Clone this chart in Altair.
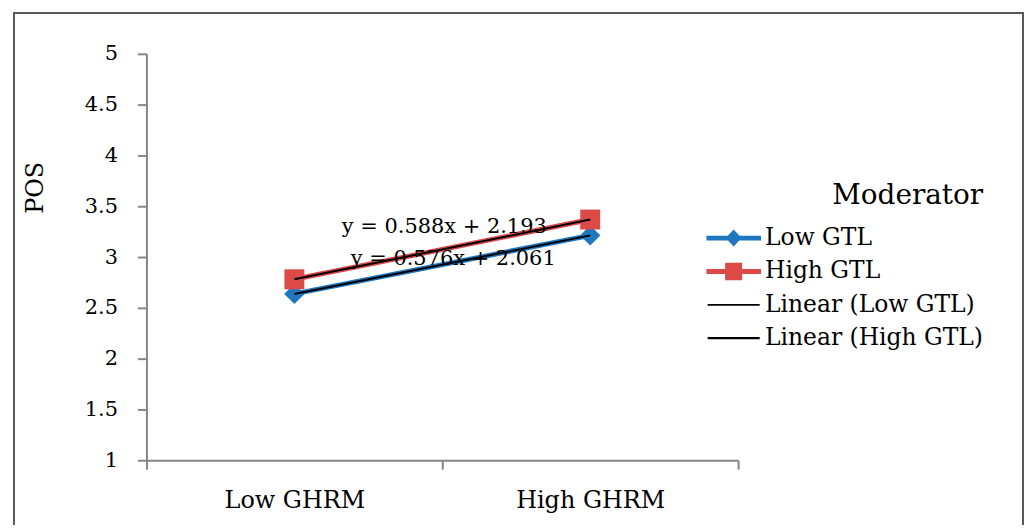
import altair as alt
import pandas as pd
import numpy as np

# ---------------- data ----------------
categories = ["Low GHRM", "High GHRM"]
series_names = ["Low GTL", "High GTL"]
low_gtl = [2.637, 3.213]
high_gtl = [2.781, 3.369]
trend_names = ["Linear (Low GTL)", "Linear (High GTL)"]
equations = ["y = 0.576x + 2.061", "y = 0.588x + 2.193"]
y_ticks = [1, 1.5, 2, 2.5, 3, 3.5, 4, 4.5, 5]
y_title = "POS"
legend_title = "Moderator"

# ---------------- styles ----------------
FONT = "DejaVu Serif"
BLUE = "#1F78BF"
RED = "#DC4A47"
AXIS_GRAY = "#868686"
series_colors = [BLUE, RED]
series_shapes = ["diamond", "square"]
series_sizes = [420, 400]

rows = []
for name, vals in zip(series_names, [low_gtl, high_gtl]):
    for i, (cat, v) in enumerate(zip(categories, vals)):
        rows.append({"series": name, "category": cat, "x": float(i + 1), "y": v})
df = pd.DataFrame(rows)

trend_rows = []
eq_rows = []
for name, tname, vals, eq in zip(series_names, trend_names, [low_gtl, high_gtl], equations):
    xs = np.arange(1, len(vals) + 1, dtype=float)
    slope, intercept = np.polyfit(xs, vals, 1)
    for xv in xs:
        trend_rows.append({"series": tname, "x": float(xv), "y": float(slope * xv + intercept)})
    xm = float(xs.mean())
    eq_rows.append({"series": tname, "x": xm, "y": float(slope * xm + intercept), "label": eq})
trend_df = pd.DataFrame(trend_rows)
eq_df = pd.DataFrame(eq_rows)

legend_names = series_names + trend_names
legend_df = pd.DataFrame({
    "series": legend_names,
    "x": [1.0] * len(legend_names),
    "y": [low_gtl[0], high_gtl[0], low_gtl[0], high_gtl[0]],
})

# ---------------- scales / axes ----------------
n = len(categories)
x_scale = alt.Scale(domain=[0.5, n + 0.5], nice=False, zero=False)
y_scale = alt.Scale(domain=[min(y_ticks), max(y_ticks)], nice=False, zero=False)

x_values = [0.5 + 0.5 * k for k in range(2 * n + 1)]
label_expr = ""
for i, c in enumerate(categories):
    label_expr += f"datum.value == {i + 1} ? '{c}' : "
label_expr += "''"
center_test = " || ".join(f"datum.value == {i + 1}" for i in range(n))

x_axis = alt.Axis(
    values=x_values, labelExpr=label_expr, title="",
    grid=False, domainColor=AXIS_GRAY, domainWidth=2,
    tickColor=AXIS_GRAY, tickWidth=2, tickSize=9,
    tickOpacity={"condition": {"test": center_test, "value": 0}, "value": 1},
    labelFontSize=24, labelColor="black", labelPadding=19, labelOverlap=False,
    labelFlush=False,
)
y_axis = alt.Axis(
    values=y_ticks, format="~g", title=y_title,
    grid=False, domainColor=AXIS_GRAY, domainWidth=2,
    tickColor=AXIS_GRAY, tickWidth=2, tickSize=9,
    labelFontSize=21, labelColor="black", labelPadding=20, labelOverlap=False,
    titleFontSize=24, titleFontWeight="normal", titleColor="black",
    titleX=-111, titleY=134, titleAngle=270, titleAlign="center", titleBaseline="middle",
)

X = alt.X("x:Q", scale=x_scale, axis=x_axis)
Y = alt.Y("y:Q", scale=y_scale, axis=y_axis)

color_scale = alt.Scale(domain=legend_names, range=series_colors + ["black", "black"])
shape_paths = [
    "M-1,-0.09L1,-0.09L1,0.09L-1,0.09Z M0,-0.31L0.29,0L0,0.31L-0.29,0Z",
    "M-1,-0.09L1,-0.09L1,0.09L-1,0.09Z M-0.31,-0.32L0.31,-0.32L0.31,0.32L-0.31,0.32Z",
    "M-0.95,-0.03L0.95,-0.03L0.95,0.03L-0.95,0.03Z",
    "M-0.95,-0.04L0.95,-0.04L0.95,0.04L-0.95,0.04Z",
]
shape_scale = alt.Scale(domain=legend_names, range=shape_paths)

legend = alt.Legend(
    title=legend_title, orient="none", legendX=562, legendY=129, padding=0,
    titleFontSize=28, titleFontWeight="normal", titleColor="black", titleAnchor="end",
    titlePadding=15, labelFontSize=23.5, labelColor="black", labelOffset=4, labelLimit=400,
    symbolSize=3025, symbolStrokeWidth=0, symbolOpacity=1, clipHeight=26, rowPadding=7.5,
)

# ---------------- layers ----------------
border = alt.Chart(alt.Data(values=[{"a": 1}])).mark_rect(
    fill="transparent", stroke="#595959", strokeWidth=2
).encode(x=alt.value(-133), x2=alt.value(880), y=alt.value(-41), y2=alt.value(490))

series_layers = []
for name, col, shp, sz in zip(series_names, series_colors, series_shapes, series_sizes):
    sub = alt.Chart(df).transform_filter(alt.datum.series == name)
    series_layers.append(sub.mark_line(strokeWidth=5, color=col).encode(x=X, y=Y))
    series_layers.append(
        sub.mark_point(shape=shp, filled=True, size=sz, opacity=1, color=col).encode(x=X, y=Y)
    )

trends = alt.Chart(trend_df).mark_line(color="black", strokeWidth=2).encode(
    x=X, y=Y, detail="series:N"
)

legend_layer = alt.Chart(legend_df).mark_point(filled=True, opacity=0).encode(
    x=X, y=Y,
    color=alt.Color("series:N", scale=color_scale, legend=legend),
    shape=alt.Shape("series:N", scale=shape_scale, legend=legend),
)

eq_low = alt.Chart(eq_df).transform_filter(alt.datum.series == trend_names[0]).mark_text(
    fontSize=21, color="black", baseline="alphabetic", align="center", dx=11, dy=0
).encode(x=X, y=Y, text="label:N")
eq_high = alt.Chart(eq_df).transform_filter(alt.datum.series == trend_names[1]).mark_text(
    fontSize=21, color="black", baseline="alphabetic", align="center", dx=2, dy=-16
).encode(x=X, y=Y, text="label:N")

chart = alt.layer(
    border, *series_layers, trends, legend_layer, eq_high, eq_low
).properties(
    width=594, height=408,
    padding={"left": 139, "top": 45, "right": 287, "bottom": 64},
    autosize=alt.AutoSizeParams(type="none"),
    background="white",
).configure_view(stroke="transparent").configure_axis(
    labelFont=FONT, titleFont=FONT
).configure_legend(labelFont=FONT, titleFont=FONT).configure_text(font=FONT)

chart.save("out.html", embed_options={"renderer": "svg", "actions": False})
